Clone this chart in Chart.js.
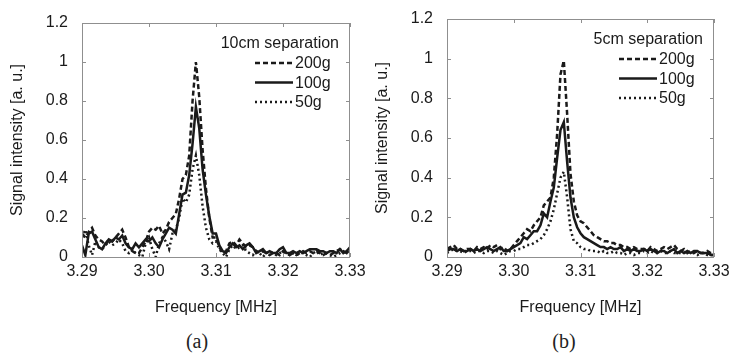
<!DOCTYPE html>
<html>
<head>
<meta charset="utf-8">
<script src="https://cdn.jsdelivr.net/npm/chart.js@4.4.0/dist/chart.umd.min.js"></script>
<style>
  body { margin: 0; background: #fff; }
  #page { position: relative; width: 730px; height: 355px; overflow: hidden; }
  canvas { position: absolute; top: 0; }
  #ca { left: 0; }
  #cb { left: 365px; }
  .cap { position: absolute; top: 341px; transform: translate(-50%, -50%);
         font: 20px "Liberation Serif", "Times New Roman", serif; color: #222; }
</style>
</head>
<body>
<div id="page">
  <canvas id="ca" width="380" height="320"></canvas>
  <canvas id="cb" width="365" height="320"></canvas>
  <div class="cap" style="left:197px">(a)</div>
  <div class="cap" style="left:564px">(b)</div>
</div>
<script>
// sampling grid: 3.2900 .. 3.3300 MHz, every 0.0005 MHz
const freq = Array.from({ length: 81 }, (_, i) => +(3.29 + i * 0.0005).toFixed(4));
const xTicks = [3.29, 3.30, 3.31, 3.32, 3.33];
const yTicks = [0, 0.2, 0.4, 0.6, 0.8, 1, 1.2];
const weights = ['200g', '100g', '50g'];

// (a) 10cm separation
const a200 = [
  0.12, 0.10, 0.13, 0.15, 0.11, 0.09, 0.08, 0.06, 0.09, 0.08,
  0.10, 0.12, 0.14, 0.10, 0.05, 0.03, 0.02, 0.02, 0.05, 0.08,
  0.13, 0.15, 0.14, 0.16, 0.12, 0.14, 0.18, 0.20, 0.22, 0.30,
  0.40, 0.42, 0.52, 0.80, 1.00, 0.82, 0.55, 0.35, 0.20, 0.10,
  0.10, 0.05, 0.02, 0.03, 0.07, 0.08, 0.06, 0.09, 0.07, 0.05,
  0.06, 0.05, 0.03, 0.02, 0.03, 0.02, 0.01, 0.02, 0.02, 0.01,
  0.03, 0.02, 0.01, 0.02, 0.01, 0.02, 0.03, 0.02, 0.03, 0.02,
  0.03, 0.02, 0.01, 0.02, 0.01, 0.02, 0.03, 0.04, 0.03, 0.02,
  0.04
];
const a100 = [
  0.06, 0.01, 0.12, 0.13, 0.09, 0.05, 0.04, 0.07, 0.09, 0.08,
  0.10, 0.09, 0.11, 0.07, 0.05, 0.04, 0.07, 0.05, 0.07, 0.09,
  0.08, 0.10, 0.07, 0.05, 0.09, 0.12, 0.15, 0.14, 0.12, 0.22,
  0.32, 0.33, 0.42, 0.58, 0.77, 0.66, 0.45, 0.32, 0.21, 0.12,
  0.12, 0.06, 0.03, 0.02, 0.05, 0.07, 0.05, 0.06, 0.04, 0.06,
  0.07, 0.05, 0.02, 0.03, 0.04, 0.02, 0.03, 0.02, 0.02, 0.04,
  0.05, 0.02, 0.02, 0.03, 0.02, 0.03, 0.02, 0.03, 0.04, 0.04,
  0.04, 0.03, 0.03, 0.02, 0.03, 0.03, 0.02, 0.04, 0.02, 0.03,
  0.05
];
const a50 = [
  0.10, 0.14, 0.06, 0.01, 0.08, 0.05, 0.04, 0.06, 0.08, 0.06,
  0.07, 0.09, 0.07, 0.03, 0.02, 0.04, 0.02, 0.01, 0.00, 0.07,
  0.10, 0.04, 0.00, 0.07, 0.10, 0.08, 0.04, 0.12, 0.14, 0.20,
  0.30, 0.28, 0.32, 0.45, 0.52, 0.42, 0.26, 0.15, 0.09, 0.07,
  0.08, 0.04, 0.02, 0.00, 0.04, 0.06, 0.04, 0.05, 0.06, 0.03,
  0.02, 0.01, 0.03, 0.02, 0.00, 0.02, 0.03, 0.02, 0.01, 0.02,
  0.03, 0.02, 0.01, 0.02, 0.01, 0.02, 0.02, 0.01, 0.00, 0.02,
  0.03, 0.01, 0.02, 0.02, 0.01, 0.00, 0.01, 0.02, 0.03, 0.02,
  0.04
];

// (b) 5cm separation
const b200 = [
  0.04, 0.05, 0.06, 0.04, 0.04, 0.03, 0.04, 0.04, 0.03, 0.05,
  0.04, 0.05, 0.04, 0.06, 0.05, 0.06, 0.04, 0.05, 0.03, 0.04,
  0.06, 0.08, 0.10, 0.12, 0.14, 0.13, 0.16, 0.18, 0.20, 0.26,
  0.28, 0.30, 0.40, 0.62, 0.92, 0.99, 0.72, 0.42, 0.28, 0.21,
  0.18, 0.17, 0.15, 0.13, 0.11, 0.10, 0.09, 0.08, 0.08, 0.07,
  0.07, 0.06, 0.06, 0.05, 0.05, 0.04, 0.05, 0.04, 0.04, 0.04,
  0.03, 0.05, 0.04, 0.03, 0.04, 0.05, 0.04, 0.05, 0.06, 0.04,
  0.03, 0.04, 0.02, 0.03, 0.02, 0.03, 0.02, 0.02, 0.03, 0.02,
  0.02
];
const b100 = [
  0.03, 0.04, 0.04, 0.03, 0.04, 0.03, 0.03, 0.04, 0.03, 0.04,
  0.03, 0.04, 0.05, 0.04, 0.03, 0.04, 0.05, 0.03, 0.03, 0.04,
  0.05, 0.06, 0.07, 0.10, 0.09, 0.11, 0.13, 0.13, 0.16, 0.22,
  0.20, 0.28, 0.35, 0.50, 0.64, 0.68, 0.48, 0.30, 0.20, 0.15,
  0.12, 0.10, 0.09, 0.08, 0.07, 0.06, 0.05, 0.05, 0.04, 0.05,
  0.04, 0.04, 0.05, 0.03, 0.04, 0.03, 0.04, 0.03, 0.03, 0.04,
  0.03, 0.04, 0.03, 0.02, 0.03, 0.03, 0.02, 0.03, 0.04, 0.02,
  0.03, 0.02, 0.03, 0.02, 0.03, 0.03, 0.02, 0.02, 0.02, 0.01,
  0.01
];
const b50 = [
  0.02, 0.03, 0.04, 0.03, 0.03, 0.02, 0.03, 0.03, 0.02, 0.03,
  0.03, 0.02, 0.03, 0.03, 0.02, 0.03, 0.02, 0.01, 0.02, 0.03,
  0.03, 0.04, 0.04, 0.05, 0.06, 0.06, 0.07, 0.08, 0.09, 0.11,
  0.14, 0.18, 0.24, 0.32, 0.40, 0.43, 0.30, 0.14, 0.08, 0.07,
  0.05, 0.04, 0.04, 0.03, 0.03, 0.03, 0.02, 0.03, 0.02, 0.02,
  0.03, 0.02, 0.02, 0.01, 0.02, 0.02, 0.01, 0.02, 0.02, 0.03,
  0.02, 0.03, 0.02, 0.02, 0.03, 0.02, 0.02, 0.03, 0.02, 0.02,
  0.02, 0.02, 0.03, 0.02, 0.02, 0.01, 0.02, 0.02, 0.01, 0.01,
  0.01
];

const FONT = 'Arial, "Liberation Sans", Helvetica, sans-serif';
const INK = '#1a1a1a';
const FRAME = '#8f8f8f';
const dashes = [[5, 3], [], [2, 3]];

// box frame with inward tick marks, plus the legend block in the top right
const framePlugin = {
  id: 'frame',
  afterDatasetsDraw(chart) {
    const { ctx, chartArea: a, scales } = chart;
    ctx.save();
    ctx.strokeStyle = FRAME;
    ctx.lineWidth = 1;
    ctx.strokeRect(a.left + 0.5, a.top + 0.5, a.right - a.left - 1, a.bottom - a.top);
    ctx.beginPath();
    xTicks.forEach(v => {
      const x = Math.round(scales.x.getPixelForValue(v)) + 0.5;
      ctx.moveTo(x, a.top); ctx.lineTo(x, a.top + 4);
      ctx.moveTo(x, a.bottom); ctx.lineTo(x, a.bottom - 4);
    });
    yTicks.forEach(v => {
      const y = Math.round(scales.y.getPixelForValue(v)) + 0.5;
      ctx.moveTo(a.left, y); ctx.lineTo(a.left + 4, y);
      ctx.moveTo(a.right, y); ctx.lineTo(a.right - 4, y);
    });
    ctx.stroke();

    const opts = chart.options.plugins.frame;
    ctx.fillStyle = INK;
    ctx.font = '16px ' + FONT;
    ctx.textBaseline = 'middle';
    ctx.textAlign = 'right';
    ctx.fillText(opts.title, a.right - 11, a.top + 21);
    ctx.textAlign = 'left';
    chart.data.datasets.forEach((ds, i) => {
      const y = a.top + 40 + i * 19.5;
      ctx.strokeStyle = INK;
      ctx.lineWidth = 2.3;
      ctx.setLineDash(ds.borderDash);
      ctx.beginPath();
      ctx.moveTo(a.right - 95, y); ctx.lineTo(a.right - 57, y);
      ctx.stroke();
      ctx.setLineDash([]);
      ctx.fillText(ds.label, a.right - 55, y + 1);
    });
    ctx.restore();
  }
};

function makeChart(id, series, title, pad) {
  return new Chart(document.getElementById(id), {
    type: 'line',
    data: {
      datasets: series.map((vals, i) => ({
        label: weights[i],
        data: freq.map((f, j) => ({ x: f, y: vals[j] })),
        borderColor: INK,
        borderWidth: 2.5,
        borderDash: dashes[i],
        pointRadius: 0,
        tension: 0
      }))
    },
    options: {
      responsive: false,
      animation: false,
      layout: { padding: pad },
      plugins: { legend: { display: false }, tooltip: { enabled: false }, frame: { title } },
      scales: {
        x: {
          type: 'linear', min: 3.29, max: 3.33,
          afterBuildTicks: s => { s.ticks = xTicks.map(v => ({ value: v })); },
          afterFit: s => { s.height = 63; s.paddingLeft = 0; s.paddingRight = 0; },
          grid: { display: false, drawTicks: false },
          border: { display: false },
          ticks: { padding: 5, color: INK, font: { family: FONT, size: 16 }, maxRotation: 0,
                   callback: v => v.toFixed(2) },
          title: { display: true, text: 'Frequency [MHz]', color: INK,
                   font: { family: FONT, size: 16 }, padding: { top: 0, bottom: 3 } }
        },
        y: {
          min: 0, max: 1.2,
          afterBuildTicks: s => { s.ticks = yTicks.map(v => ({ value: v })); },
          afterFit: s => { s.width = 82; s.paddingTop = 0; s.paddingBottom = 0; },
          grid: { display: false, drawTicks: false },
          border: { display: false },
          ticks: { padding: 14, color: INK, font: { family: FONT, size: 16 },
                   callback: v => String(+v.toFixed(1)) },
          title: { display: true, text: 'Signal intensity [a. u.]', color: INK,
                   font: { family: FONT, size: 16 }, padding: { top: 8, bottom: 0 } }
        }
      }
    },
    plugins: [framePlugin]
  });
}

makeChart('ca', [a200, a100, a50], '10cm separation', { left: 0, right: 30, top: 23, bottom: 0 });
makeChart('cb', [b200, b100, b50], '5cm separation', { left: 0, right: 16, top: 19, bottom: 0 });
</script>
</body>
</html>
